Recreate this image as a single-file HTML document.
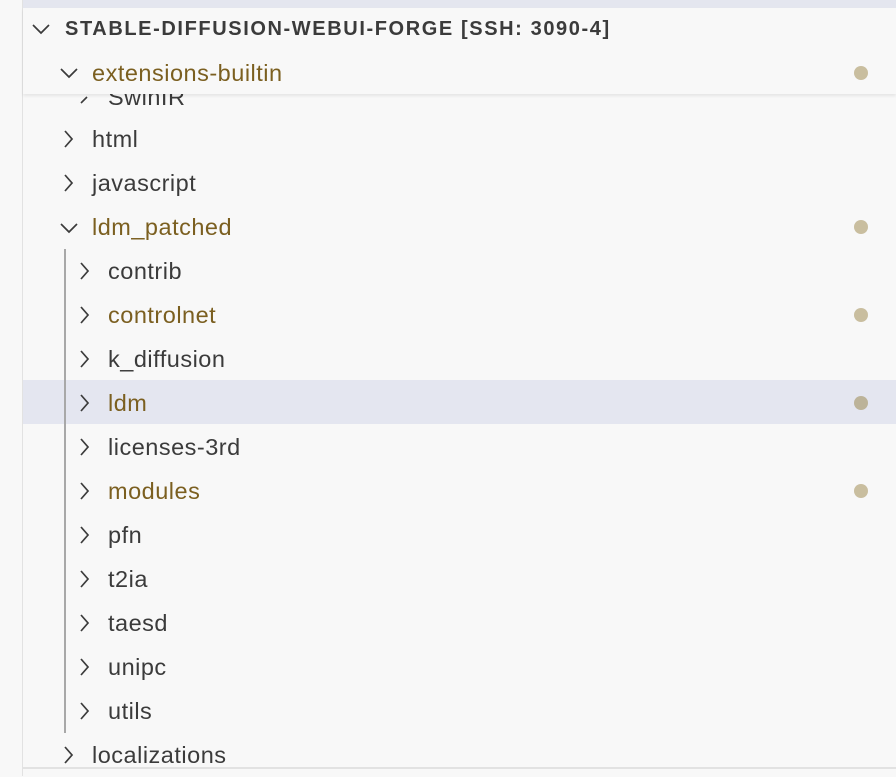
<!DOCTYPE html>
<html><head><meta charset="utf-8"><style>
html,body{margin:0;padding:0;}
body{width:896px;height:776px;background:#f8f8f8;position:relative;overflow:hidden;font-family:"Liberation Sans",Arial,sans-serif;}
.t{position:absolute;font-size:23.5px;letter-spacing:0.5px;color:#3b3b3b;line-height:44px;white-space:nowrap;}
.m{color:#7b5f20;}
.row{position:absolute;left:23px;right:0;height:44px;}
.dot{position:absolute;left:854px;width:14px;height:14px;border-radius:50%;background:#c9be9f;}
svg.c{position:absolute;}
</style></head><body>
<div style="position:absolute;left:0;top:0;width:22px;height:776px;background:#f8f8f8;border-right:1px solid #e2e2e2"></div>
<div style="position:absolute;left:23px;top:0;right:0;height:8px;background:#e4e6ef"></div>
<div class="row" style="top:380px;background:#e4e6f0"></div>
<div style="position:absolute;left:23px;right:0;top:767px;height:2px;background:#e2e2e2"></div>

<div class="t" style="left:108px;top:75px">SwinIR</div>
<svg class="c" style="left:80px;top:96px" width="12" height="8"><polyline points="1,7 7,1" fill="none" stroke="#3b3b3b" stroke-width="1.6"/></svg>

<div style="position:absolute;left:23px;right:0;top:8px;height:86px;background:#f8f8f8;box-shadow:0 2px 3px rgba(0,0,0,0.08)"></div>
<svg class="c" style="left:32px;top:23px" width="20" height="12"><polyline points="1,2 9,10 17,2" fill="none" stroke="#3b3b3b" stroke-width="1.7"/></svg>
<div class="t" style="left:65px;top:7px;font-weight:bold;font-size:20px;letter-spacing:1.6px;color:#3b3b3b">STABLE-DIFFUSION-WEBUI-FORGE [SSH: 3090-4]</div>
<svg class="c" style="left:60px;top:67px" width="20" height="12"><polyline points="1,2 9,10 17,2" fill="none" stroke="#3b3b3b" stroke-width="1.7"/></svg>
<div class="t m" style="left:92px;top:51px">extensions-builtin</div>
<div class="dot" style="top:66px"></div>

<svg class="c" style="left:63px;top:130px" width="12" height="20"><polyline points="2,1 9,9 2,17" fill="none" stroke="#3b3b3b" stroke-width="1.7"/></svg>
<div class="t" style="left:92px;top:117px">html</div>
<svg class="c" style="left:63px;top:174px" width="12" height="20"><polyline points="2,1 9,9 2,17" fill="none" stroke="#3b3b3b" stroke-width="1.7"/></svg>
<div class="t" style="left:92px;top:161px">javascript</div>
<svg class="c" style="left:60px;top:222px" width="20" height="12"><polyline points="1,2 9,10 17,2" fill="none" stroke="#3b3b3b" stroke-width="1.7"/></svg>
<div class="t m" style="left:92px;top:205px">ldm_patched</div>
<div class="dot" style="top:220px"></div>
<div style="position:absolute;left:64px;top:249px;width:2px;height:484px;background:#a8a8a8"></div>

<svg class="c" style="left:79px;top:262px" width="12" height="20"><polyline points="2,1 9,9 2,17" fill="none" stroke="#3b3b3b" stroke-width="1.7"/></svg>
<div class="t" style="left:108px;top:249px">contrib</div>
<svg class="c" style="left:79px;top:306px" width="12" height="20"><polyline points="2,1 9,9 2,17" fill="none" stroke="#3b3b3b" stroke-width="1.7"/></svg>
<div class="t m" style="left:108px;top:293px">controlnet</div>
<div class="dot" style="top:308px"></div>
<svg class="c" style="left:79px;top:350px" width="12" height="20"><polyline points="2,1 9,9 2,17" fill="none" stroke="#3b3b3b" stroke-width="1.7"/></svg>
<div class="t" style="left:108px;top:337px">k_diffusion</div>
<svg class="c" style="left:79px;top:394px" width="12" height="20"><polyline points="2,1 9,9 2,17" fill="none" stroke="#3b3b3b" stroke-width="1.7"/></svg>
<div class="t m" style="left:108px;top:381px">ldm</div>
<div class="dot" style="top:396px;background:#bcb399"></div>
<svg class="c" style="left:79px;top:438px" width="12" height="20"><polyline points="2,1 9,9 2,17" fill="none" stroke="#3b3b3b" stroke-width="1.7"/></svg>
<div class="t" style="left:108px;top:425px">licenses-3rd</div>
<svg class="c" style="left:79px;top:482px" width="12" height="20"><polyline points="2,1 9,9 2,17" fill="none" stroke="#3b3b3b" stroke-width="1.7"/></svg>
<div class="t m" style="left:108px;top:469px">modules</div>
<div class="dot" style="top:484px"></div>
<svg class="c" style="left:79px;top:526px" width="12" height="20"><polyline points="2,1 9,9 2,17" fill="none" stroke="#3b3b3b" stroke-width="1.7"/></svg>
<div class="t" style="left:108px;top:513px">pfn</div>
<svg class="c" style="left:79px;top:570px" width="12" height="20"><polyline points="2,1 9,9 2,17" fill="none" stroke="#3b3b3b" stroke-width="1.7"/></svg>
<div class="t" style="left:108px;top:557px">t2ia</div>
<svg class="c" style="left:79px;top:614px" width="12" height="20"><polyline points="2,1 9,9 2,17" fill="none" stroke="#3b3b3b" stroke-width="1.7"/></svg>
<div class="t" style="left:108px;top:601px">taesd</div>
<svg class="c" style="left:79px;top:658px" width="12" height="20"><polyline points="2,1 9,9 2,17" fill="none" stroke="#3b3b3b" stroke-width="1.7"/></svg>
<div class="t" style="left:108px;top:645px">unipc</div>
<svg class="c" style="left:79px;top:702px" width="12" height="20"><polyline points="2,1 9,9 2,17" fill="none" stroke="#3b3b3b" stroke-width="1.7"/></svg>
<div class="t" style="left:108px;top:689px">utils</div>

<svg class="c" style="left:63px;top:746px" width="12" height="20"><polyline points="2,1 9,9 2,17" fill="none" stroke="#3b3b3b" stroke-width="1.7"/></svg>
<div class="t" style="left:92px;top:733px">localizations</div>
</body></html>
